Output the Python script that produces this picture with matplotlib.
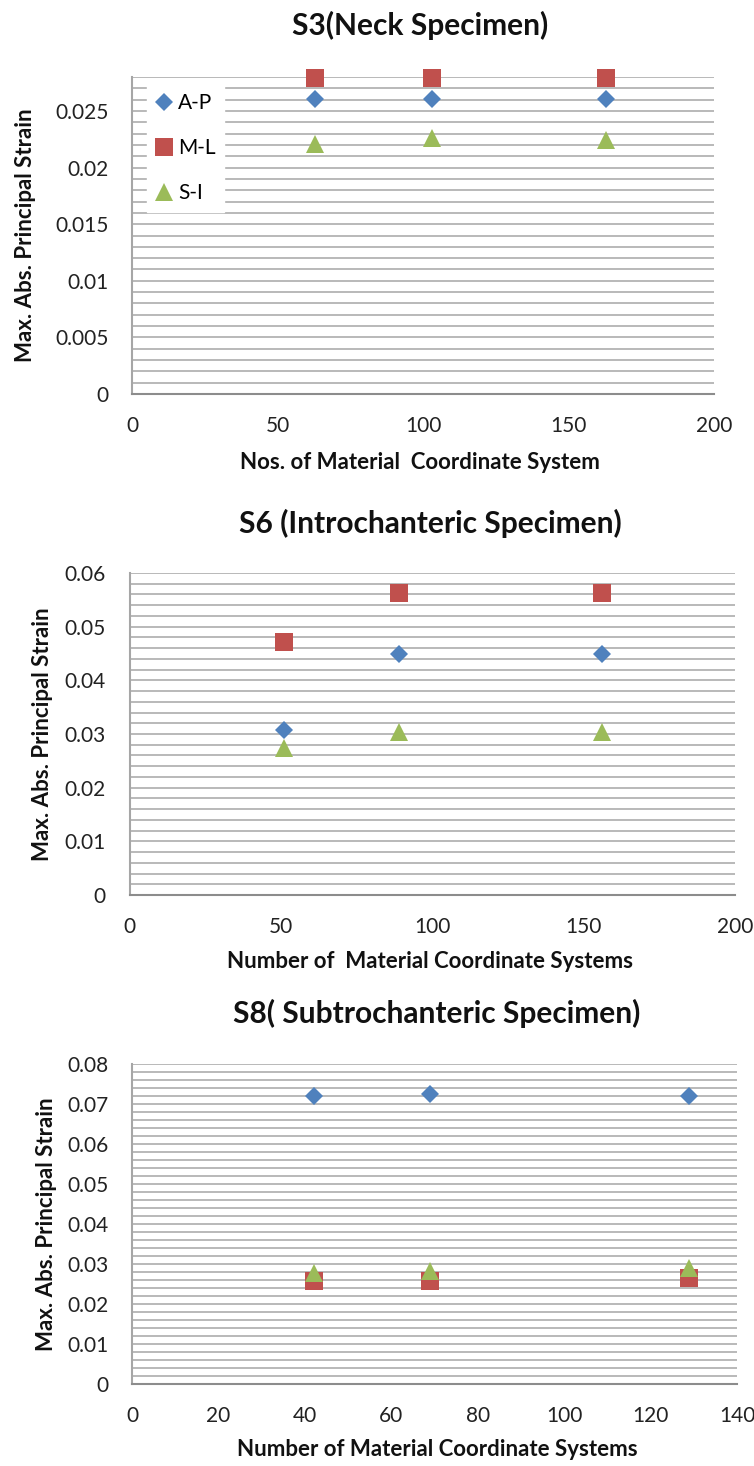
import matplotlib.pyplot as plt
from matplotlib.ticker import MultipleLocator, FuncFormatter

plt.rcParams['font.family'] = ['Lato', 'DejaVu Sans']

series_names = ['A-P', 'M-L', 'S-I']
series_colors = ['#4F81BD', '#C0504D', '#9BBB59']
series_markers = ['D', 's', '^']
series_sizes = [9.5, 13, 12.5]

# S3 - neck specimen
s3_x = [63, 103, 163]
s3_ap = [0.0261, 0.0261, 0.0261]
s3_ml = [0.0279, 0.0279, 0.0279]
s3_si = [0.0221, 0.0226, 0.0224]

# S6 - introchanteric specimen
s6_x = [51, 89, 156]
s6_ap = [0.0307, 0.0450, 0.0450]
s6_ml = [0.0472, 0.0562, 0.0562]
s6_si = [0.0274, 0.0304, 0.0304]

# S8 - subtrochanteric specimen
s8_x = [42, 69, 129]
s8_ap = [0.0721, 0.0725, 0.0721]
s8_ml = [0.0258, 0.0258, 0.0266]
s8_si = [0.0278, 0.0283, 0.0290]

W, H = 754, 1466
fig = plt.figure(figsize=(W / 100, H / 100), dpi=100)


def px_axes(left, right, top, bottom):
    return fig.add_axes([left / W, (H - bottom) / H, (right - left) / W, (bottom - top) / H])


def fmt(v, pos):
    return '0' if v == 0 else ('%g' % round(v, 4))


def draw_panel(box, xs, ys, xmax, xstep, ymax, ystep, yminor,
               title, xlabel, title_xy, xlabel_xy, ylabel_x, legend=False):
    ax = px_axes(*box)
    for name, vals, c, m, ms in zip(series_names, ys, series_colors,
                                    series_markers, series_sizes):
        ax.plot(xs, vals, linestyle='none', marker=m, ms=ms, color=c,
                markeredgewidth=0, label=name, zorder=4, clip_on=False)
    ax.set_xlim(0, xmax)
    ax.set_ylim(0, ymax)
    ax.xaxis.set_major_locator(MultipleLocator(xstep))
    ax.yaxis.set_major_locator(MultipleLocator(ystep))
    ax.yaxis.set_minor_locator(MultipleLocator(yminor))
    ax.yaxis.set_major_formatter(FuncFormatter(fmt))
    ax.grid(True, axis='y', which='both', color='#B3B3B3', linewidth=1.3)
    ax.set_axisbelow(True)
    for s in ['top', 'right']:
        ax.spines[s].set_visible(False)
    ax.spines['left'].set_color('#A6A6A6')
    ax.spines['bottom'].set_color('#8C8C8C')
    ax.spines['left'].set_linewidth(1.5)
    ax.spines['bottom'].set_linewidth(1.5)
    ax.tick_params(axis='both', which='both', length=0, labelsize=15,
                   labelcolor='#222222')
    ax.tick_params(axis='x', pad=16)
    ax.tick_params(axis='y', pad=17)

    fig.text(title_xy[0] / W, 1 - title_xy[1] / H, title, ha='center', va='center',
             fontsize=21.5, fontweight='bold', color='#111111')
    fig.text(xlabel_xy[0] / W, 1 - xlabel_xy[1] / H, xlabel, ha='center', va='center',
             fontsize=16, fontweight='bold', color='#111111')
    yc = (box[2] + box[3]) / 2
    fig.text(ylabel_x / W, 1 - yc / H, 'Max. Abs. Principal Strain', ha='center',
             va='center', rotation=90, fontsize=16, fontweight='bold', color='#111111')

    if legend:
        leg = ax.legend(loc='upper left', bbox_to_anchor=(0.025, 0.975),
                        borderaxespad=0, frameon=True, fancybox=False,
                        edgecolor='white', facecolor='white', framealpha=1,
                        fontsize=15, handlelength=0.9, handletextpad=0.2,
                        labelspacing=1.2, borderpad=0.4)
        leg.set_zorder(3)
    return ax


draw_panel((132, 714, 77, 394), s3_x, [s3_ap, s3_ml, s3_si], 200, 50, 0.028, 0.005, 0.001,
           'S3(Neck Specimen)', 'Nos. of Material  Coordinate System',
           (420, 25), (420, 463), 25, legend=True)

draw_panel((129.5, 735, 573, 895), s6_x, [s6_ap, s6_ml, s6_si], 200, 50, 0.06, 0.01, 0.002,
           'S6 (Introchanteric Specimen)', 'Number of  Material Coordinate Systems',
           (430, 523), (430, 962), 43)

draw_panel((132, 737, 1064, 1384), s8_x, [s8_ap, s8_ml, s8_si], 140, 20, 0.08, 0.01, 0.002,
           'S8( Subtrochanteric Specimen)', 'Number of Material Coordinate Systems',
           (437, 1013), (437, 1450), 47)

fig.savefig('out.png', dpi=100, facecolor='white')
